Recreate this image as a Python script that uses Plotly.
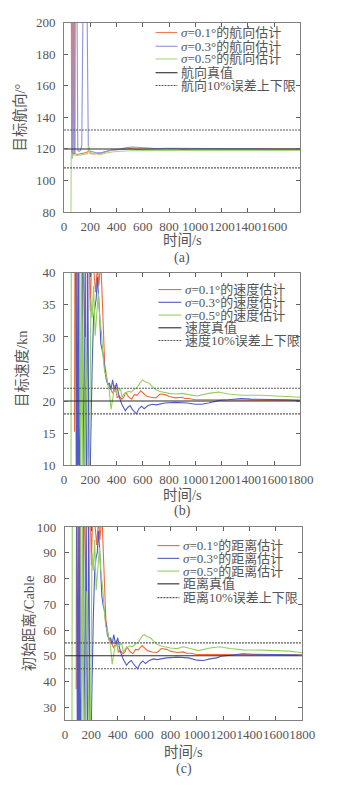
import plotly.graph_objects as go

W, H = 343, 791

# ---------------- data: (a) heading ----------------
A_T_ORANGE = [55, 58, 62, 66, 72, 76, 80, 84, 100, 130, 160, 190, 200, 230, 260, 290, 330, 370, 400, 450, 500, 550, 600, 650, 700, 750, 800, 850, 900, 1000, 1100, 1200, 1300, 1400, 1500, 1600, 1700, 1800]
A_V_ORANGE = [240, 117, 250, 117, 250, 116.5, 260, 117, 116.5, 117, 117.5, 118.5, 117, 116.8, 117, 117.5, 118.5, 119.3, 119.8, 119.6, 120.2, 119.7, 119.8, 120.1, 119.8, 120.2, 120.1, 120.3, 119.9, 120.1, 120.1, 120.0, 120.0, 120.1, 120.0, 120.0, 120.0, 120.0]
A_T_BLUE = [60, 63, 68, 80, 88, 96, 105, 115, 125, 135, 150, 170, 185, 200, 220, 250, 280, 320, 360, 400, 440, 480, 520, 560, 600, 650, 700, 800, 900, 1000, 1130, 1200, 1400, 1600, 1800]
A_V_BLUE = [260, 114, 117, 118, 250, 250, 119, 118.5, 119, 122, 260, 260, 121, 118.5, 118, 117.5, 117.5, 118.5, 119.3, 119.4, 120.3, 120.8, 121.2, 120.9, 120.6, 120.5, 120.3, 120.4, 120.3, 120.2, 120.2, 120.0, 120.0, 120.0, 120.0]
A_T_GREEN = [52, 55, 58, 65, 80, 100, 130, 160, 180, 188, 195, 210, 240, 270, 290, 330, 380, 450, 500, 600, 700, 800, 900, 1000, 1200, 1400, 1600, 1800]
A_V_GREEN = [60, 117, 114, 116, 116.3, 115.8, 116.2, 116.8, 117, 122.3, 118, 117.3, 117.2, 116.2, 116.8, 117.6, 118.2, 118.7, 118.8, 118.9, 118.8, 119.0, 119.0, 119.1, 119.1, 119.0, 119.1, 119.1]

# ---------------- data: (b) speed ----------------
B_T_ORANGE = [80, 84, 95, 105, 115, 140, 160, 170, 190, 200, 210, 225, 240, 255, 265, 280, 290, 300, 310, 330, 350, 370, 390, 405, 420, 440, 455, 470, 490, 515, 535, 555, 585, 600, 625, 660, 700, 730, 770, 800, 850, 900, 920, 950, 1000, 1100, 1200, 1300, 1400, 1500, 1600, 1700, 1800]
B_V_ORANGE = [15.2, 55, 45, 0, 50, 45, 30, 48, 45, 34, 42, 41, 37, 41, 38, 42, 36, 30, 25.6, 23, 22, 21.2, 22.5, 20.5, 20.8, 20.3, 20.6, 21.4, 20.7, 20.3, 21.0, 20.9, 21.6, 21.3, 20.8, 20.6, 20.5, 21.1, 21.0, 20.7, 20.5, 20.6, 20.4, 20.4, 20.2, 20.2, 20.2, 20.2, 20.2, 20.2, 20.2, 20.2, 20.1]
B_T_BLUE = [88, 95, 100, 106, 112, 118, 140, 150, 160, 170, 180, 192, 200, 205, 215, 225, 235, 245, 254, 262, 270, 280, 290, 300, 310, 322, 335, 346, 358, 370, 385, 400, 418, 440, 467, 485, 503, 520, 551, 570, 590, 610, 640, 672, 700, 769, 850, 938, 1000, 1050, 1100, 1185, 1250, 1350, 1420, 1500, 1600, 1700, 1800]
B_V_BLUE = [45, -5, 40, -5, 45, 0, 45, 0, 40, 5, 45, 0, 10, 18.6, 26, 33, 35, 36, 39.4, 37, 34, 29, 27.8, 27, 25, 23.3, 22.5, 22.8, 21.8, 23.3, 21.5, 22.8, 20.8, 19.5, 18.5, 19.0, 19.3, 18.7, 18.0, 18.8, 19.2, 18.8, 19.3, 19.5, 19.4, 19.7, 19.8, 19.7, 19.5, 19.5, 19.7, 20.1, 20.2, 20.4, 20.3, 20.3, 20.2, 20.2, 20.1]
B_T_GREEN = [52, 56, 120, 128, 135, 145, 165, 185, 195, 205, 215, 225, 237, 250, 261, 272, 285, 298, 309, 320, 333, 345, 358, 370, 382, 400, 418, 430, 442, 460, 491, 510, 527, 560, 580, 600, 620, 648, 670, 697, 730, 769, 800, 850, 900, 950, 1010, 1100, 1175, 1250, 1350, 1500, 1600, 1700, 1800]
B_V_GREEN = [-10, 50, 45, 5, 40, 0, 30, 5, 12, 36, 33, 38, 30.2, 34, 36.8, 33, 30.7, 27, 24.6, 24, 22.9, 21.5, 18.7, 20, 21.8, 21.3, 21.6, 21.9, 20.6, 21.2, 21.5, 21.4, 21.7, 22.2, 22.9, 23.3, 23.0, 22.8, 22.3, 21.8, 21.5, 21.3, 21.2, 21.1, 21.2, 21.0, 20.8, 21.2, 21.4, 21.1, 20.9, 20.9, 20.8, 20.7, 20.6]

# ---------------- data: (c) distance ----------------
C_T_ORANGE = [85, 88, 100, 108, 118, 140, 160, 170, 190, 200, 210, 225, 240, 255, 265, 280, 290, 300, 310, 330, 350, 370, 390, 405, 420, 440, 455, 470, 490, 515, 535, 555, 585, 600, 625, 660, 700, 730, 770, 800, 850, 900, 920, 950, 1000, 1100, 1200, 1300, 1400, 1500, 1600, 1700, 1800]
C_V_ORANGE = [37, 140, 120, 0, 130, 120, 75, 120, 115, 85, 105, 103, 93, 103, 95, 105, 90, 75, 64, 57.5, 55, 53, 56, 51.3, 52, 50.8, 51.5, 53.5, 51.8, 50.8, 52.5, 52.3, 54, 53.3, 52, 51.5, 51.3, 52.8, 52.5, 51.8, 51.3, 51.5, 51, 51, 50.5, 50.5, 50.4, 50.5, 50.5, 50.5, 50.4, 50.4, 50.3]
C_T_BLUE = [88, 95, 100, 106, 112, 118, 140, 150, 160, 170, 180, 192, 200, 205, 215, 225, 235, 245, 254, 262, 270, 280, 290, 300, 310, 322, 335, 346, 358, 370, 385, 400, 418, 440, 467, 485, 503, 520, 551, 570, 590, 610, 640, 672, 700, 769, 850, 938, 1000, 1050, 1100, 1150, 1185, 1250, 1350, 1420, 1500, 1600, 1700, 1800]
C_V_BLUE = [110, -10, 100, -10, 110, 0, 110, 0, 100, 12, 110, 0, 25, 46.5, 65, 82, 88, 90, 98.5, 92, 85, 73, 69.5, 67.5, 62.5, 58.2, 56, 57, 54.5, 58.2, 54, 57, 52, 48.8, 46.3, 47.5, 48.2, 46.8, 45, 47, 48, 47, 48.2, 48.8, 48.5, 49.2, 49.5, 49.2, 48.3, 48.2, 48.8, 49.2, 49.8, 50.3, 50.8, 50.6, 50.6, 50.5, 50.4, 50.3]
C_T_GREEN = [52, 56, 120, 128, 135, 145, 165, 185, 195, 205, 215, 225, 237, 250, 261, 272, 285, 298, 309, 320, 333, 345, 358, 370, 382, 400, 418, 430, 442, 460, 491, 510, 527, 560, 580, 600, 620, 648, 670, 697, 730, 769, 800, 850, 900, 950, 1010, 1100, 1175, 1250, 1350, 1500, 1600, 1700, 1800]
C_V_GREEN = [-10, 120, 110, 12, 100, 0, 75, 12, 30, 90, 83, 95, 75.5, 85, 92, 83, 77, 67.5, 61.5, 60, 57.3, 53.8, 46.8, 50, 54.5, 53.3, 54, 54.8, 51.5, 53, 53.8, 53.5, 54.3, 55.5, 57.3, 58.3, 57.5, 57, 55.8, 54.5, 53.8, 53.3, 53, 52.8, 53.5, 52.8, 52, 53, 53.5, 52.8, 52.3, 52.2, 52, 51.8, 51.2]

T_SPAN = [0, 1800]
TRUE_VALUES = [120, 20, 50]
LOWER_BOUNDS = [108, 18, 45]
UPPER_BOUNDS = [132, 22, 55]

Y_RANGES = [[80, 200], [10, 40], [25, 100]]
Y_TICKS = [[80, 100, 120, 140, 160, 180, 200], [10, 15, 20, 25, 30, 35, 40], [30, 40, 50, 60, 70, 80, 90, 100]]
X_TICKS = [[0, 200, 400, 600, 800, 1000, 1200, 1400, 1600],
           [0, 200, 400, 600, 800, 1000, 1200, 1400, 1600, 1800],
           [0, 200, 400, 600, 800, 1000, 1200, 1400, 1600, 1800]]
Y_TITLES = ["目标航向/°", "目标速度/kn", "初始距离/Cable"]
QUANTITIES = ["航向", "速度", "距离"]
SIGMAS = ["0.1", "0.3", "0.5"]
PANEL_TAGS = ["(a)", "(b)", "(c)"]
X_TITLE = "时间/s"

SERIES = [
    [(A_T_ORANGE, A_V_ORANGE), (A_T_BLUE, A_V_BLUE), (A_T_GREEN, A_V_GREEN)],
    [(B_T_ORANGE, B_V_ORANGE), (B_T_BLUE, B_V_BLUE), (B_T_GREEN, B_V_GREEN)],
    [(C_T_ORANGE, C_V_ORANGE), (C_T_BLUE, C_V_BLUE), (C_T_GREEN, C_V_GREEN)],
]

# ---------------- styling / layout geometry (pixels) ----------------
FONT = "Liberation Serif, 'Noto Sans CJK SC', serif"
TXT = "#555555"
COLORS = [
    ["#f27a50", "#8e93dc", "#a6d97c"],
    ["#f2683a", "#4f5bc6", "#93d05e"],
    ["#f2683a", "#4f5bc6", "#93d05e"],
]
TRUE_C = "#2a2a2a"
BOUND_C = "#5a5a5a"

PLOT_BOX = [(64, 312, 16, 209), (64, 312, 271, 467), (65, 314, 530, 727)]
XTITLE_Y = [238, 497, 759]
TAG_Y = [256, 514, 777]
YTITLE_X = [18, 20, 27]
LEG_LINE_X = [(160, 183), (163, 187), (162, 185)]
LEG_TEXT_X = [185, 189, 187]
LEG_ROW_Y = [[26, 40, 53, 67, 80], [288, 301, 314, 327, 340], [549, 562, 575, 588, 602]]


def px(x):
    return x / W


def py(y):
    return 1 - y / H


fig = go.Figure()
annotations = []
shapes = []

for i in range(3):
    sfx = "" if i == 0 else str(i + 1)
    xa, ya = "x" + sfx, "y" + sfx
    cols = COLORS[i]
    for k, (tt, vv) in enumerate(SERIES[i]):
        fig.add_trace(go.Scatter(x=tt, y=vv, mode="lines", xaxis=xa, yaxis=ya,
                                 line=dict(color=cols[k], width=1.1), showlegend=False,
                                 name=f"σ={SIGMAS[k]}°的{QUANTITIES[i]}估计"))
    fig.add_trace(go.Scatter(x=T_SPAN, y=[TRUE_VALUES[i]] * 2, mode="lines", xaxis=xa, yaxis=ya,
                             line=dict(color=TRUE_C, width=1.1), showlegend=False))
    for b in (UPPER_BOUNDS[i], LOWER_BOUNDS[i]):
        fig.add_trace(go.Scatter(x=T_SPAN, y=[b] * 2, mode="lines", xaxis=xa, yaxis=ya,
                                 line=dict(color=BOUND_C, width=1.1, dash="2px,1px"), showlegend=False))

    x0, x1, y0, y1 = PLOT_BOX[i]
    axis_common = dict(showline=True, linecolor="#808080", linewidth=1, mirror="ticks",
                       ticks="inside", ticklen=4, tickcolor="#606060", showgrid=False,
                       zeroline=False, tickangle=0,
                       tickfont=dict(family=FONT, size=13, color=TXT))
    fig.layout["xaxis" + sfx] = dict(domain=[px(x0), px(x1)], range=[0, 1800], tickvals=X_TICKS[i],
                                     anchor=ya, ticklabelstandoff=2, **axis_common)
    fig.layout["yaxis" + sfx] = dict(domain=[py(y1), py(y0)], range=Y_RANGES[i], tickvals=Y_TICKS[i],
                                     anchor=xa, ticklabelstandoff=5, **axis_common)

    cx = px((x0 + x1) / 2)
    annotations.append(dict(text=X_TITLE, x=cx, y=py(XTITLE_Y[i]), xref="paper", yref="paper",
                            showarrow=False, xanchor="center", yanchor="middle",
                            font=dict(family=FONT, size=14.5, color=TXT)))
    annotations.append(dict(text=PANEL_TAGS[i], x=cx, y=py(TAG_Y[i]), xref="paper", yref="paper",
                            showarrow=False, xanchor="center", yanchor="middle",
                            font=dict(family=FONT, size=14, color=TXT)))
    annotations.append(dict(text=Y_TITLES[i], x=px(YTITLE_X[i]), y=py((y0 + y1) / 2), xref="paper",
                            yref="paper", showarrow=False, xanchor="center", yanchor="middle",
                            textangle=-90, font=dict(family=FONT, size=14.5, color=TXT)))

    labels = [f"<i>σ</i>={SIGMAS[k]}°的{QUANTITIES[i]}估计" for k in range(3)]
    labels += [f"{QUANTITIES[i]}真值", f"{QUANTITIES[i]}10%误差上下限"]
    leg_colors = cols + [TRUE_C, BOUND_C]
    lx0, lx1 = LEG_LINE_X[i]
    for r in range(5):
        yy = py(LEG_ROW_Y[i][r])
        shapes.append(dict(type="line", xref="paper", yref="paper", x0=px(lx0), x1=px(lx1), y0=yy, y1=yy,
                           line=dict(color=leg_colors[r], width=1.1,
                                     dash="2px,1px" if r == 4 else "solid")))
        annotations.append(dict(text=labels[r], x=px(LEG_TEXT_X[i]), y=yy, xref="paper", yref="paper",
                                showarrow=False, xanchor="left", yanchor="middle",
                                font=dict(family=FONT, size=13, color=TXT)))

fig.update_layout(width=W, height=H, margin=dict(l=0, r=0, t=0, b=0),
                  paper_bgcolor="white", plot_bgcolor="white",
                  annotations=annotations, shapes=shapes, showlegend=False)

fig.write_html("out.html", config={"displayModeBar": False},
               post_script="document.body.style.margin='0px';")
